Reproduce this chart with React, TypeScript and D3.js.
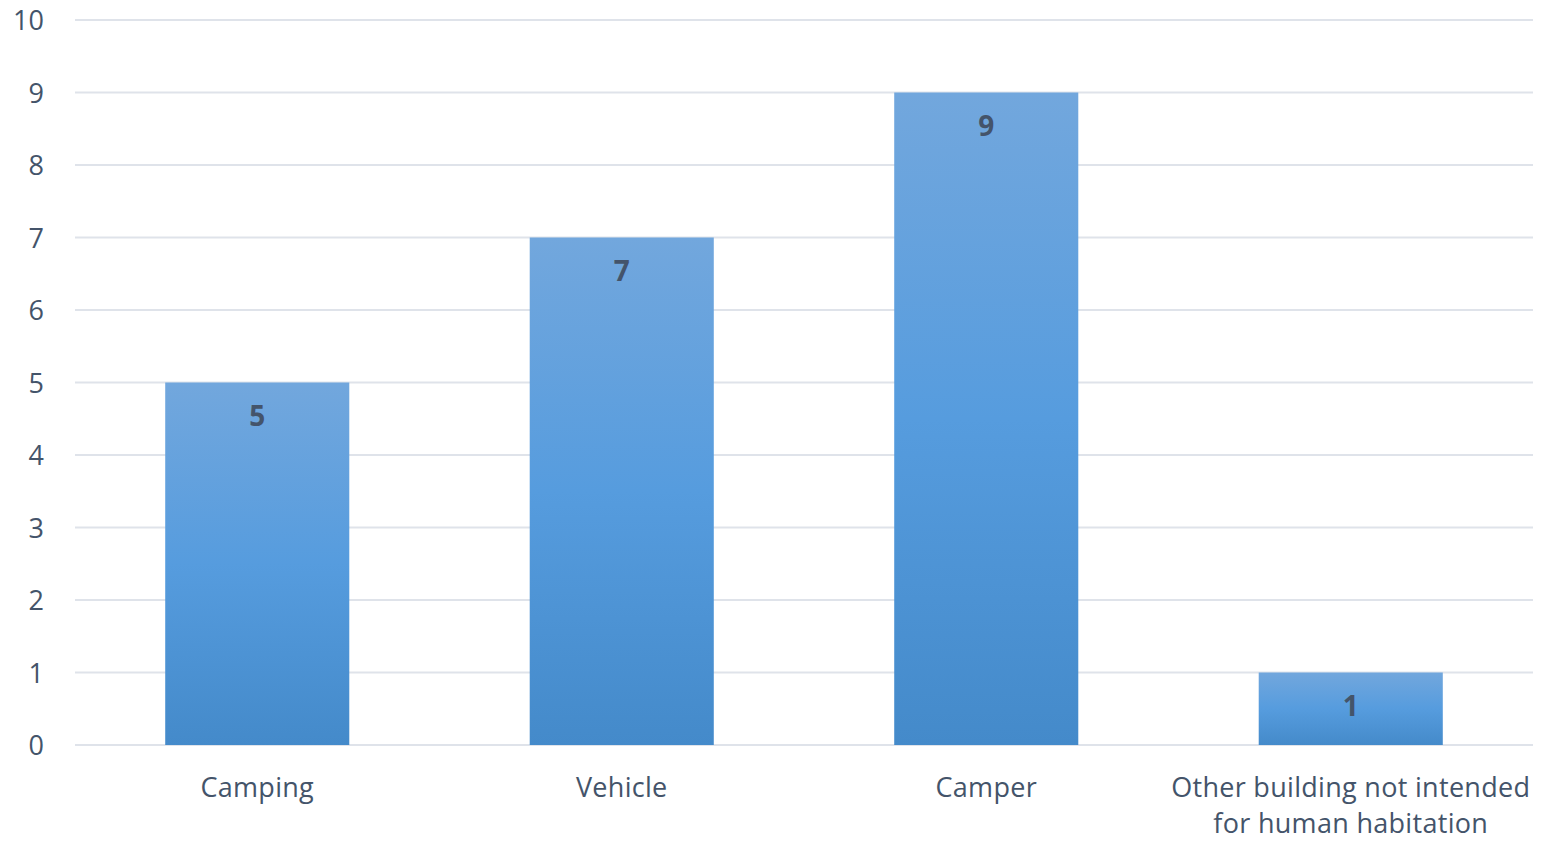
import React from "react";
import * as d3 from "d3";

const categories: string[][] = [
  ["Camping"],
  ["Vehicle"],
  ["Camper"],
  ["Other building not intended", "for human habitation"],
];
const values: number[] = [5, 7, 9, 1];
const yTicks: number[] = [0, 1, 2, 3, 4, 5, 6, 7, 8, 9, 10];

const W = 1543;
const H = 841;
const margin = { left: 75, right: 10, top: 20, bottom: 96 };
const textColor = "#44546A";
const font = "'Open Sans', 'Noto Sans', sans-serif";

export default function App() {
  const x = d3
    .scaleBand<number>()
    .domain(d3.range(values.length))
    .range([margin.left, W - margin.right])
    .paddingInner(0.495)
    .paddingOuter(0.2475);
  const y = d3.scaleLinear().domain([0, 10]).range([H - margin.bottom, margin.top]);

  return (
    <svg
      width={W}
      height={H}
      style={{ position: "absolute", left: 0, top: 0, background: "#fff" }}
      fontFamily={font}
    >
      <defs>
        <linearGradient id="barGrad" x1="0" y1="0" x2="0" y2="1">
          <stop offset="0%" stopColor="#72a7dd" />
          <stop offset="50%" stopColor="#569cde" />
          <stop offset="100%" stopColor="#448aca" />
        </linearGradient>
      </defs>
      {yTicks.map((t) => (
        <g key={t}>
          <line
            x1={margin.left}
            x2={W - margin.right}
            y1={y(t)}
            y2={y(t)}
            stroke="#dfe3ea"
            strokeWidth={2}
          />
          <text
            x={44}
            y={y(t) + 10}
            textAnchor="end"
            fontSize={27}
            fill={textColor}
          >
            {t}
          </text>
        </g>
      ))}
      {values.map((v, i) => (
        <g key={i}>
          <rect
            x={x(i)!}
            y={y(v)}
            width={x.bandwidth()}
            height={y(0) - y(v)}
            fill="url(#barGrad)"
          />
          <text
            x={x(i)! + x.bandwidth() / 2}
            y={y(v) + 43}
            textAnchor="middle"
            fontSize={28}
            fontWeight="bold"
            fill={textColor}
          >
            {v}
          </text>
          {categories[i].map((line, j) => (
            <text
              key={j}
              x={x(i)! + x.bandwidth() / 2}
              y={797 + j * 36}
              textAnchor="middle"
              fontSize={27}
              letterSpacing={0.3}
              fill={textColor}
            >
              {line}
            </text>
          ))}
        </g>
      ))}
    </svg>
  );
}
